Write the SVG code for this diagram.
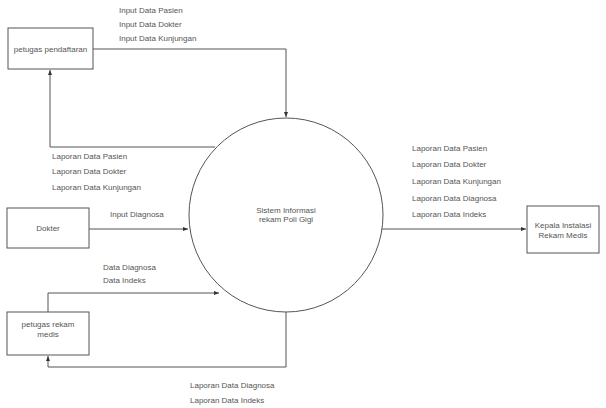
<svg xmlns="http://www.w3.org/2000/svg" width="606" height="408" viewBox="0 0 606 408">
<defs>
<marker id="ah" viewBox="0 0 10 10" refX="10" refY="5" markerWidth="5" markerHeight="5" orient="auto-start-reverse" markerUnits="userSpaceOnUse">
<path d="M0,1 L10,5 L0,9 z" fill="#333"/>
</marker>
<style>
.box{fill:#fff;stroke:#555;stroke-width:1}
.t{font-family:"Liberation Sans",Arial,sans-serif;font-size:8px;fill:#555}
.c{text-anchor:middle}
.ln{fill:none;stroke:#555;stroke-width:1;marker-end:url(#ah)}
</style>
</defs>
<rect width="606" height="408" fill="#fff"/>
<g id="connectors">
<path class="ln" d="M93,49 H286 V117"/>
<path class="ln" d="M215,147 H50 V70"/>
<path class="ln" d="M89,229 H188"/>
<path class="ln" d="M48,312 V293 H219"/>
<path class="ln" d="M286,312 V367 H48 V356"/>
<path class="ln" d="M382,229 H526"/>
</g>
<g id="labels">
<text class="t" x="119" y="13">Input Data Pasien</text>
<text class="t" x="119" y="27">Input Data Dokter</text>
<text class="t" x="119" y="41">Input Data Kunjungan</text>
<text class="t" x="52" y="159">Laporan Data Pasien</text>
<text class="t" x="52" y="174">Laporan Data Dokter</text>
<text class="t" x="52" y="190">Laporan Data Kunjungan</text>
<text class="t" x="110" y="217">Input Diagnosa</text>
<text class="t" x="103" y="270">Data Diagnosa</text>
<text class="t" x="103" y="283">Data Indeks</text>
<text class="t" x="190" y="388">Laporan Data Diagnosa</text>
<text class="t" x="190" y="403">Laporan Data Indeks</text>
<text class="t" x="412" y="151">Laporan Data Pasien</text>
<text class="t" x="412" y="167">Laporan Data Dokter</text>
<text class="t" x="412" y="184">Laporan Data Kunjungan</text>
<text class="t" x="412" y="201">Laporan Data Diagnosa</text>
<text class="t" x="412" y="217">Laporan Data Indeks</text>
</g>
<g id="petugas-pendaftaran">
<rect class="box" x="8" y="28" width="85" height="41"/>
<text class="t c" x="50.5" y="52">petugas pendaftaran</text>
</g>
<g id="dokter">
<rect class="box" x="7" y="208" width="82" height="40"/>
<text class="t c" x="48" y="231">Dokter</text>
</g>
<g id="petugas-rekam-medis">
<rect class="box" x="7" y="312" width="82" height="43"/>
<text class="t c" x="48" y="327">petugas rekam</text>
<text class="t c" x="48" y="337">medis</text>
</g>
<g id="sistem">
<circle cx="286" cy="215" r="97" fill="#fff" stroke="#555" stroke-width="1"/>
<text class="t c" x="286" y="213">Sistem Informasi</text>
<text class="t c" x="286" y="222">rekam Poli Gigi</text>
</g>
<g id="kepala">
<rect class="box" x="527" y="206" width="72" height="47"/>
<text class="t c" x="563" y="228">Kepala Instalasi</text>
<text class="t c" x="563" y="238">Rekam Medis</text>
</g>
</svg>
